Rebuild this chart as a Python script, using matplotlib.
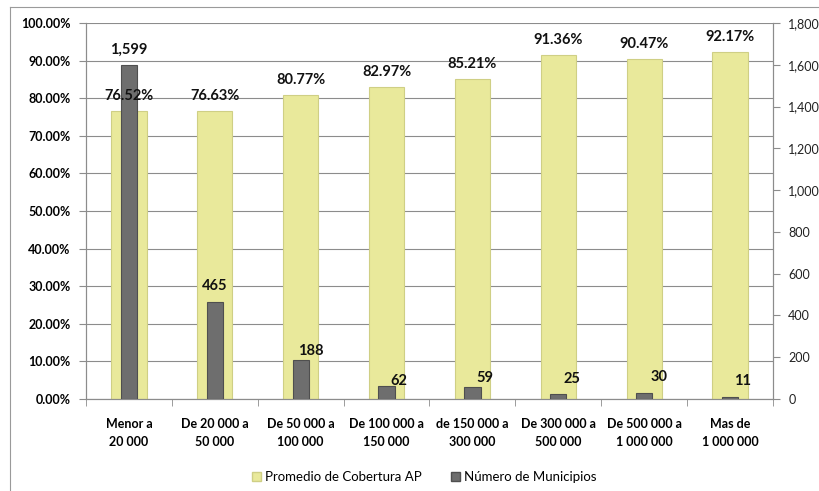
import matplotlib.pyplot as plt
import numpy as np
from matplotlib.lines import Line2D
from matplotlib.patches import Patch
from matplotlib.ticker import FuncFormatter

plt.rcParams["font.family"] = ["Lato", "DejaVu Sans"]

categories = [
    "Menor a\n20 000",
    "De 20 000 a\n50 000",
    "De 50 000 a\n100 000",
    "De 100 000 a\n150 000",
    "de 150 000 a\n300 000",
    "De 300 000 a\n500 000",
    "De 500 000 a\n1 000 000",
    "Mas de\n1 000 000",
]
coverage = [76.52, 76.63, 80.77, 82.97, 85.21, 91.36, 90.47, 92.17]
municipios = [1599, 465, 188, 62, 59, 25, 30, 11]
# where excel left the count labels, in pixels from the bar top
count_offsets = [(0, 15), (0, 16), (10, 9), (12, 5), (12, 9), (14, 15), (15, 16), (12, 16)]

yellow = "#E9E99B"
grey = "#6E6E6E"
line_col = "#8C8C8C"

fig = plt.figure(figsize=(8.2, 4.91), dpi=100)
ax = fig.add_axes([86 / 820, 1 - 399 / 491, (773 - 86) / 820, (399 - 23) / 491])
ax2 = ax.twinx()

x = np.arange(len(categories))

ax.bar(x, coverage, width=0.41, color=yellow, edgecolor="#CFCF85", linewidth=0.8, zorder=2)
ax2.bar(x, municipios, width=0.19, color=grey, edgecolor="#4F4F4F", linewidth=0.8, zorder=3)

# percent labels go on ax2 so they sit over the grey bars
for xi, v in zip(x, coverage):
    ax2.annotate(f"{v:.2f}%", (xi, v), xycoords=ax.transData, xytext=(0, 15),
                 textcoords="offset pixels", ha="center", va="center",
                 fontsize=10.5, fontweight="bold", color="#111111", zorder=5)

for xi, v, (dx, dy) in zip(x, municipios, count_offsets):
    ax2.annotate(f"{v:,}", (xi, v), xytext=(dx, dy), textcoords="offset pixels",
                 ha="center", va="center", fontsize=10.5, fontweight="bold",
                 color="#111111", zorder=5)

ax.set_xlim(-0.5, len(categories) - 0.5)
ax.set_ylim(0, 100)
ax.set_yticks(np.arange(0, 101, 10))
ax.yaxis.set_major_formatter(FuncFormatter(lambda v, p: f"{v:.2f}%"))
ax.grid(axis="y", color=line_col, linewidth=0.8)
ax.set_axisbelow(True)

ax2.set_ylim(0, 1800)
ax2.set_yticks(np.arange(0, 1801, 200))
ax2.yaxis.set_major_formatter(FuncFormatter(lambda v, p: f"{v:,.0f}"))

ax.set_xticks(x, categories)
ax.set_xticks(np.arange(-0.5, len(categories), 1), minor=True)
ax.tick_params(axis="x", which="major", length=0, pad=14)
ax.tick_params(axis="x", which="minor", length=5, color=line_col)
for lbl in ax.get_xticklabels():
    lbl.set_fontweight("bold")
    lbl.set_fontsize(9)
    lbl.set_linespacing(1.55)

ax.tick_params(axis="y", length=5, color=line_col, labelsize=9, pad=6)
for lbl in ax.get_yticklabels():
    lbl.set_fontweight("bold")
ax2.tick_params(axis="y", length=5, color=line_col, labelsize=9, pad=6, labelcolor="#222222")

for a in (ax, ax2):
    a.spines["top"].set_visible(False)
    for s in ("left", "right", "bottom"):
        a.spines[s].set_color(line_col)
        a.spines[s].set_linewidth(0.8)

# outer chart frame
fig.add_artist(Line2D([10 / 820, 10 / 820], [0, 1 - 7 / 491], color="#9A9A9A", linewidth=0.8))
fig.add_artist(Line2D([10 / 820, 1], [1 - 7 / 491, 1 - 7 / 491], color="#9A9A9A", linewidth=0.8))

handles = [
    Patch(facecolor=yellow, edgecolor="#CFCF85", label="Promedio de Cobertura AP"),
    Patch(facecolor=grey, edgecolor="#4F4F4F", label="Número de Municipios"),
]
fig.legend(handles=handles, loc="center", bbox_to_anchor=(424 / 820, 1 - 477 / 491), ncol=2,
           frameon=False, fontsize=9.5, handlelength=0.7, handleheight=0.7,
           handletextpad=0.3, columnspacing=2.2)

fig.savefig("out.png", dpi=100)
